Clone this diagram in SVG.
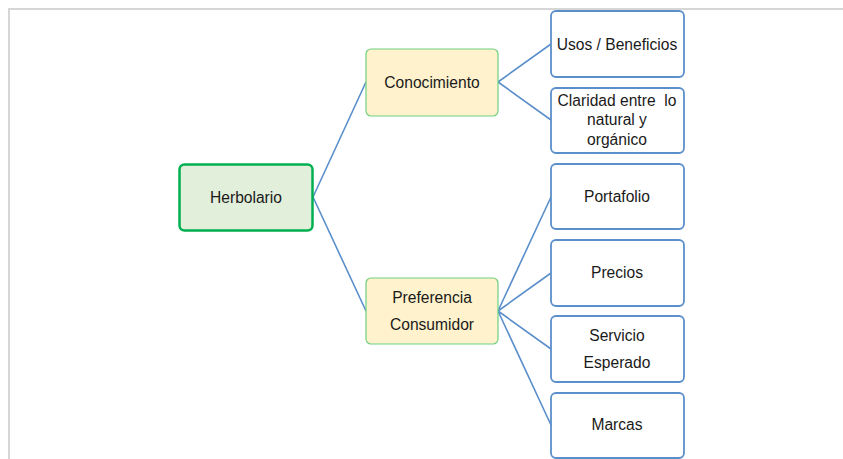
<svg xmlns="http://www.w3.org/2000/svg" width="843" height="459" viewBox="0 0 843 459">
<style>
.t{font-family:"Liberation Sans",Arial,sans-serif;font-size:15.6px;fill:#1a1a1a;text-anchor:middle;dominant-baseline:central;white-space:pre}
.root{fill:#E2EFDA;stroke:#00B050;stroke-width:2.5}
.mid{fill:#FFF2CC;stroke:#6FD07F;stroke-width:1.2}
.leaf{fill:#fff;stroke:#5B8FCB;stroke-width:1.8}
.c{stroke:#5B8FCB;stroke-width:1.6;fill:none}
</style>
<rect width="843" height="459" fill="#fff"/>
<path d="M9 459V9H843" fill="none" stroke="#d6d6d6" stroke-width="2"/>
<g id="connectors">
<path class="c" d="M313 197L366 82M313 197L366 311"/>
<path class="c" d="M498 82L551 44M498 82L551 120"/>
<path class="c" d="M498 311L551 197M498 311L551 273M498 311L551 349M498 311L551 425"/>
</g>
<g id="herbolario"><rect class="root" x="179.5" y="164.5" width="133" height="66" rx="5"/><text class="t" x="246" y="197">Herbolario</text></g>
<g id="conocimiento"><rect class="mid" x="366" y="49" width="132" height="67" rx="5"/><text class="t" x="432" y="82">Conocimiento</text></g>
<g id="preferencia"><rect class="mid" x="366" y="278" width="132" height="66" rx="5"/><text class="t" x="432" y="297">Preferencia</text><text class="t" x="432" y="324">Consumidor</text></g>
<g id="usos"><rect class="leaf" x="551" y="11" width="133" height="66" rx="5"/><text class="t" x="617" y="44">Usos / Beneficios</text></g>
<g id="claridad"><rect class="leaf" x="551" y="88" width="133" height="65" rx="5"/><text class="t" x="617" y="100" xml:space="preserve">Claridad entre  lo</text><text class="t" x="617" y="119">natural y</text><text class="t" x="617" y="139">orgánico</text></g>
<g id="portafolio"><rect class="leaf" x="551" y="164" width="133" height="65" rx="5"/><text class="t" x="617" y="196">Portafolio</text></g>
<g id="precios"><rect class="leaf" x="551" y="240" width="133" height="66" rx="5"/><text class="t" x="617" y="272">Precios</text></g>
<g id="servicio"><rect class="leaf" x="551" y="316" width="133" height="66" rx="5"/><text class="t" x="617" y="335">Servicio</text><text class="t" x="617" y="362">Esperado</text></g>
<g id="marcas"><rect class="leaf" x="551" y="393" width="133" height="65" rx="5"/><text class="t" x="617" y="424">Marcas</text></g>
</svg>
